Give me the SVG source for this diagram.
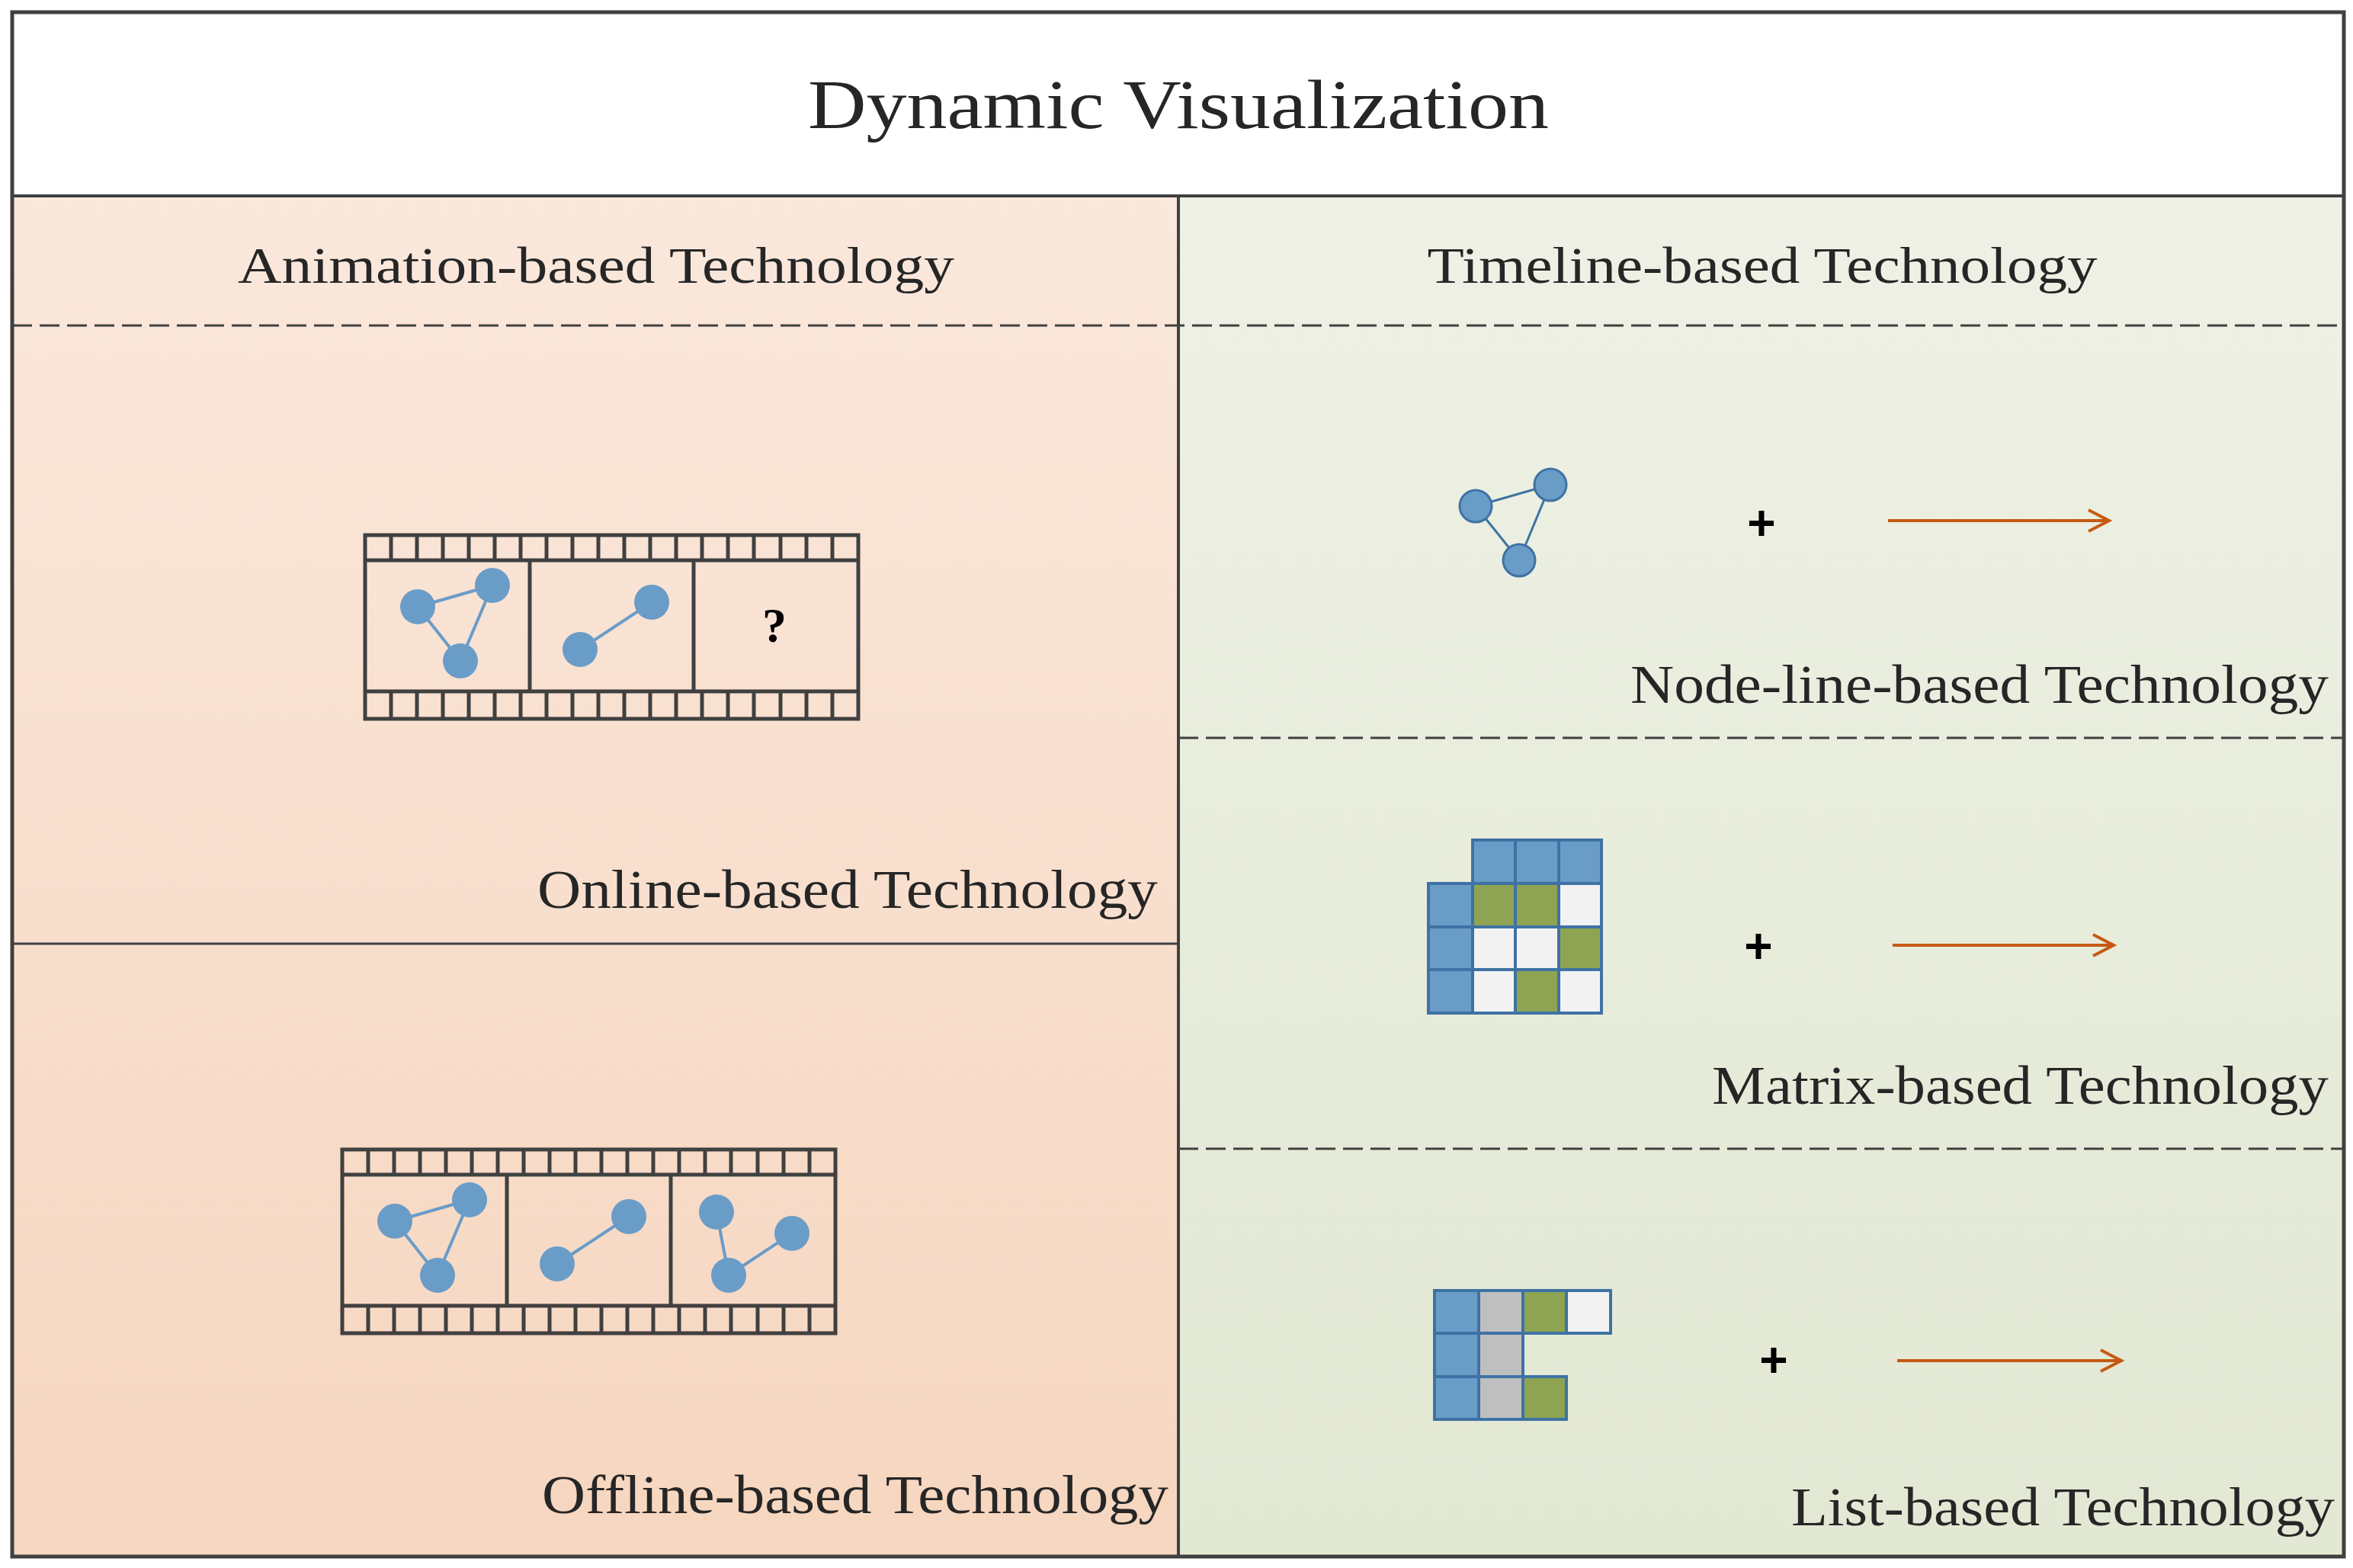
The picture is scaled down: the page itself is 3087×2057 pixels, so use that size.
<svg xmlns="http://www.w3.org/2000/svg" width="3087" height="2057" viewBox="0 0 3087 2057">
<style>
.t{font-family:"Liberation Serif",serif;fill:#262626}
.fl{fill:none;stroke:#404040;stroke-width:5}
.nd{fill:#6A9CC8}
.ed{stroke:#6A9CC8;stroke-width:4}
.rn{fill:#6A9CC8;stroke:#3F72A4;stroke-width:3}
.ln{stroke:#3F72A4;stroke-width:3}
.c{stroke:#3F72A4;stroke-width:4}
.b{fill:#6A9CC8}.g{fill:#8FA452}.w{fill:#F2F2F2}.s{fill:#BFBFBF}
.ds{stroke:#404040;stroke-width:3;stroke-dasharray:26,10}
.ar{stroke:#C55A11;stroke-width:4;fill:none}
.pl{font-family:"Liberation Sans",sans-serif;font-weight:bold;font-size:64px;fill:#000}
</style>
<defs>
<linearGradient id="gl" x1="0" y1="0" x2="0" y2="1"><stop offset="0" stop-color="#FAE8DC"/><stop offset="1" stop-color="#F6D6BF"/></linearGradient>
<linearGradient id="gr" x1="0" y1="0" x2="0" y2="1"><stop offset="0" stop-color="#EEF1E5"/><stop offset="1" stop-color="#E2E8D3"/></linearGradient>
<pattern id="holes" x="479" y="0" width="34.05" height="2057" patternUnits="userSpaceOnUse"><line x1="0" y1="0" x2="0" y2="2057" stroke="#404040" stroke-width="5"/></pattern>
<g id="film">
<rect x="0" y="0" width="647" height="241" class="fl"/>
<line x1="0" y1="33" x2="647" y2="33" class="fl"/>
<line x1="0" y1="205" x2="647" y2="205" class="fl"/>
<path d="M34,0v33M68,0v33M102,0v33M136,0v33M170,0v33M204,0v33M238,0v33M272,0v33M306,0v33M340,0v33M374,0v33M408,0v33M442,0v33M476,0v33M510,0v33M545,0v33M579,0v33M613,0v33M34,205v36M68,205v36M102,205v36M136,205v36M170,205v36M204,205v36M238,205v36M272,205v36M306,205v36M340,205v36M374,205v36M408,205v36M442,205v36M476,205v36M510,205v36M545,205v36M579,205v36M613,205v36" class="fl" stroke-width="4"/>
<line x1="216" y1="33" x2="216" y2="205" class="fl"/>
<line x1="431" y1="33" x2="431" y2="205" class="fl"/>
<line x1="69" y1="94" x2="167" y2="66" class="ed"/><line x1="69" y1="94" x2="125" y2="165" class="ed"/><line x1="167" y1="66" x2="125" y2="165" class="ed"/>
<ellipse cx="69" cy="94" rx="23" ry="23" class="nd"/><ellipse cx="167" cy="66" rx="23" ry="23" class="nd"/><ellipse cx="125" cy="165" rx="23" ry="23" class="nd"/>
<line x1="282" y1="150" x2="376" y2="88" class="ed"/>
<ellipse cx="282" cy="150" rx="23" ry="23" class="nd"/><ellipse cx="376" cy="88" rx="23" ry="23" class="nd"/>
</g>
</defs>
<rect x="16" y="16" width="3059" height="2026" fill="#fff"/>
<rect x="16" y="257" width="1530" height="1785" fill="url(#gl)"/>
<rect x="1546" y="257" width="1529" height="1785" fill="url(#gr)"/>
<g id="title"><text class="t" x="1546" y="168" font-size="92" text-anchor="middle" textLength="972" lengthAdjust="spacingAndGlyphs">Dynamic Visualization</text></g>
<g id="connectors">
<line x1="16" y1="427" x2="3075" y2="427" class="ds"/>
<line x1="1546" y1="968" x2="3075" y2="968" class="ds"/>
<line x1="1546" y1="1507" x2="3075" y2="1507" class="ds"/>
<line x1="16" y1="1238" x2="1546" y2="1238" stroke="#404040" stroke-width="3"/>
<line x1="16" y1="257" x2="3075" y2="257" stroke="#404040" stroke-width="4"/>
<line x1="1546" y1="257" x2="1546" y2="2042" stroke="#404040" stroke-width="4"/>
</g>
<rect x="16" y="16" width="3059" height="2026" fill="none" stroke="#404040" stroke-width="5"/>
<g id="headers">
<text class="t" x="782" y="371" font-size="68" text-anchor="middle" textLength="940" lengthAdjust="spacingAndGlyphs">Animation-based Technology</text>
<text class="t" x="2312" y="371" font-size="68" text-anchor="middle" textLength="879" lengthAdjust="spacingAndGlyphs">Timeline-based Technology</text>
</g>
<g id="online">
<use href="#film" x="479" y="702"/>
<text x="1016" y="842" font-family="Liberation Serif,serif" font-weight="bold" font-size="64" text-anchor="middle">?</text>
<text class="t" x="1519" y="1191" font-size="72" text-anchor="end" textLength="814" lengthAdjust="spacingAndGlyphs">Online-based Technology</text>
</g>
<g id="offline">
<use href="#film" x="449" y="1508"/>
<line x1="940" y1="1590" x2="956" y2="1673" class="ed"/><line x1="956" y1="1673" x2="1039" y2="1618" class="ed"/>
<ellipse cx="940" cy="1590" rx="23" ry="23" class="nd"/><ellipse cx="1039" cy="1618" rx="23" ry="23" class="nd"/><ellipse cx="956" cy="1673" rx="23" ry="23" class="nd"/>
<text class="t" x="1533" y="1985" font-size="72" text-anchor="end" textLength="822" lengthAdjust="spacingAndGlyphs">Offline-based Technology</text>
</g>
<g id="nodeline">
<line x1="1936" y1="664" x2="2034" y2="636" class="ln"/><line x1="1936" y1="664" x2="1993" y2="735" class="ln"/><line x1="2034" y1="636" x2="1993" y2="735" class="ln"/>
<circle cx="1936" cy="664" r="21" class="rn"/><circle cx="2034" cy="636" r="21" class="rn"/><circle cx="1993" cy="735" r="21" class="rn"/>
<text class="pl" x="2311" y="708" text-anchor="middle">+</text>
<line x1="2477" y1="683" x2="2765" y2="683" class="ar"/><path d="M2740,669L2767,683L2740,697" class="ar"/>
<text class="t" x="3055" y="922" font-size="72" text-anchor="end" textLength="916" lengthAdjust="spacingAndGlyphs">Node-line-based Technology</text>
</g>
<g id="matrix">
<g class="c">
<rect x="1932" y="1102" width="56" height="57" class="b"/><rect x="1988" y="1102" width="57" height="57" class="b"/><rect x="2045" y="1102" width="56" height="57" class="b"/>
<rect x="1874" y="1159" width="58" height="57" class="b"/><rect x="1932" y="1159" width="56" height="57" class="g"/><rect x="1988" y="1159" width="57" height="57" class="g"/><rect x="2045" y="1159" width="56" height="57" class="w"/>
<rect x="1874" y="1216" width="58" height="56" class="b"/><rect x="1932" y="1216" width="56" height="56" class="w"/><rect x="1988" y="1216" width="57" height="56" class="w"/><rect x="2045" y="1216" width="56" height="56" class="g"/>
<rect x="1874" y="1272" width="58" height="57" class="b"/><rect x="1932" y="1272" width="56" height="57" class="w"/><rect x="1988" y="1272" width="57" height="57" class="g"/><rect x="2045" y="1272" width="56" height="57" class="w"/>
</g>
<text class="pl" x="2307" y="1263" text-anchor="middle">+</text>
<line x1="2483" y1="1240" x2="2771" y2="1240" class="ar"/><path d="M2746,1226L2773,1240L2746,1254" class="ar"/>
<text class="t" x="3055" y="1448" font-size="72" text-anchor="end" textLength="809" lengthAdjust="spacingAndGlyphs">Matrix-based Technology</text>
</g>
<g id="list">
<g class="c">
<rect x="1882" y="1693" width="58" height="56" class="b"/><rect x="1940" y="1693" width="58" height="56" class="s"/><rect x="1998" y="1693" width="57" height="56" class="g"/><rect x="2055" y="1693" width="58" height="56" class="w"/>
<rect x="1882" y="1749" width="58" height="57" class="b"/><rect x="1940" y="1749" width="58" height="57" class="s"/>
<rect x="1882" y="1806" width="58" height="56" class="b"/><rect x="1940" y="1806" width="58" height="56" class="s"/><rect x="1998" y="1806" width="57" height="56" class="g"/>
</g>
<text class="pl" x="2327" y="1806" text-anchor="middle">+</text>
<line x1="2489" y1="1785" x2="2781" y2="1785" class="ar"/><path d="M2756,1771L2783,1785L2756,1799" class="ar"/>
<text class="t" x="3063" y="2001" font-size="72" text-anchor="end" textLength="713" lengthAdjust="spacingAndGlyphs">List-based Technology</text>
</g>
</svg>
